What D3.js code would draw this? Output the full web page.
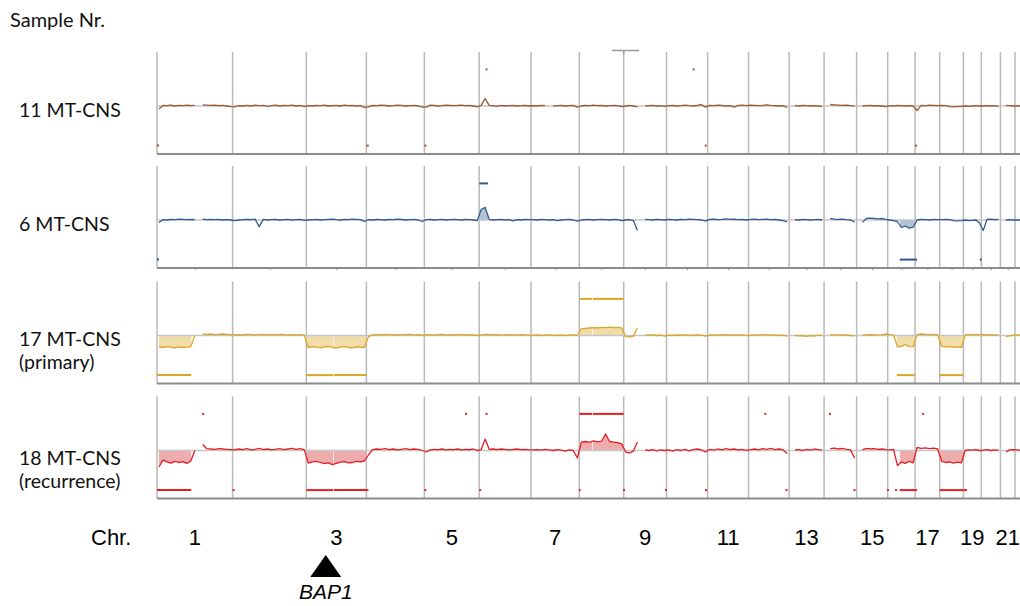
<!DOCTYPE html>
<html><head><meta charset="utf-8">
<script src="https://cdn.jsdelivr.net/npm/d3@7"></script>
<style>body{margin:0;background:#fff;} svg{display:block;}</style>
</head><body>
<svg id="chart" width="1020" height="606"></svg>
<script>
// ---------------- DATA ----------------
const chromosomes = ["1","2","3","4","5","6","7","8","9","10","11","12","13","14","15","16","17","18","19","20","21","22"];
const chrLengthsMb = [249.3,243.2,198.0,191.2,180.9,171.1,159.1,146.4,141.2,135.5,135.0,133.9,115.2,107.3,102.5,90.4,81.2,78.1,59.1,63.0,48.1,51.3];
const tickChromosomes = ["1","3","5","7","9","11","13","15","17","19","21"];
const sampleNames = [["11 MT-CNS"],["6 MT-CNS"],["17 MT-CNS","(primary)"],["18 MT-CNS","(recurrence)"]];
const bap1 = ["3", 64];            // chromosome, position (Mb) of the marked gene
const topMarkFrom = ["8", 107];    // small grey mark above the first panel
const topMarkTo = ["9", 51];
const gainLevel = 1.22, lossLevel = -1.32;  // log2 levels of the call bars

// log2 ratio profiles, one list per chromosome, evenly spaced along it (null = no probes)
const profile11 = [
[-0.1,0.02,0.01,0.03,0.0,0.02,0.01,0.03,0.01,0.02,null,0.04,0.03,0.02,0.03,0.01,0.02,0.0,-0.02],
[-0.03,0.01,0.0,0.02,0.0,0.03,0.01,0.02,-0.01,0.01,0.03,0.0,0.02,0.01,0.03,0.0,0.02,-0.02],
[0.01,0.0,0.02,0.01,0.03,0.0,0.01,0.02,0.0,0.03,0.01,0.02,0.0,0.01,-0.05],
[-0.03,0.02,0.01,0.03,0.02,0.0,0.01,0.03,0.02,0.0,0.01,0.02,0.0,-0.04],
[-0.04,0.03,0.02,0.0,0.01,0.03,0.02,0.01,0.02,0.03,0.01,0.02,0.0,-0.03],
[0.02,0.25,0.02,0.01,-0.01,0.02,0.0,0.01,0.02,0.0,0.01,0.02,0.0],
[0.01,0.0,0.02,0.01,null,0.0,0.01,0.02,0.0,0.01,0.02,-0.04],
[0.0,0.02,0.01,0.03,0.01,0.02,0.0,0.01,0.02,0.01,-0.02],
[0.0,0.02,0.0,-0.03,null,0.0,0.01,0.02,0.0,0.01,-0.01],
[0.01,0.02,0.0,0.01,0.03,0.01,0.0,0.02,0.05,-0.04],
[0.02,0.01,0.03,0.02,0.0,0.01,-0.04,0.02,0.03,0.01],
[0.03,0.02,0.01,0.02,0.04,0.02,0.01,0.0,0.01,-0.05],
[null,0.01,0.0,0.02,0.01,0.0,0.01,0.0,-0.02],
[null,0.05,0.04,0.03,0.02,0.03,0.01,0.0],
[null,0.0,0.01,0.02,0.0,0.01,0.0,-0.02],
[0.01,0.0,0.02,0.01,0.0,0.01,0.0],
[-0.15,0.02,0.01,0.03,0.02,0.01],
[0.02,0.01,-0.02,-0.03,-0.02,-0.01],
[0.0,-0.01,0.0,0.01,0.0],
[0.0,0.01,0.0,0.01,-0.01],
[null,0.02,0.01,0.0],
[0.0,0.01,0.0,0.01]
];
const profile6 = [
[-0.08,0.01,0.0,0.02,0.01,0.03,0.02,0.01,0.02,0.01,null,0.03,0.01,0.02,0.01,0.02,0.0,0.01,0.0],
[-0.02,0.0,0.01,0.02,0.01,0.03,-0.22,0.02,0.0,0.01,0.02,0.0,0.01,0.02,0.0,0.01,0.02,-0.01],
[0.0,0.01,0.02,0.0,0.01,0.02,0.03,0.01,0.0,0.02,0.01,0.03,0.02,0.01,-0.05],
[0.01,0.0,0.02,0.01,0.0,0.02,0.01,0.03,0.02,0.0,0.01,0.02,0.0,-0.05],
[0.01,0.02,0.0,0.01,0.02,0.0,0.01,0.02,0.01,0.0,0.02,0.01,0.0,-0.02],
[0.35,0.42,0.02,0.0,0.01,0.02,0.0,0.01,-0.03,0.01,0.0,0.02,0.01],
[0.01,0.0,0.02,0.01,0.0,0.01,-0.02,0.0,0.01,0.02,0.0,-0.04],
[0.0,0.01,0.02,0.0,0.01,0.02,0.01,0.0,0.02,0.01,-0.02],
[0.0,0.01,-0.02,-0.35,null,0.02,0.01,0.0,0.02,0.01,0.0],
[0.02,0.01,0.0,0.02,0.01,0.03,0.02,0.01,0.0,-0.04],
[0.02,0.03,0.01,0.02,0.04,0.02,0.03,0.01,0.02,0.0],
[0.02,0.03,0.01,0.02,0.03,0.01,0.02,0.0,-0.02,-0.06],
[null,0.01,0.0,0.02,0.01,0.0,0.01,0.02,0.0],
[null,0.05,0.03,0.02,0.03,0.01,0.0,-0.06],
[null,-0.08,0.05,0.06,0.05,0.04,0.05,0.02],
[0.0,-0.02,-0.05,-0.25,-0.2,-0.27,-0.24],
[0.0,0.02,0.01,0.0,0.02,0.01],
[0.01,0.02,0.01,-0.02,-0.03,-0.02],
[0.0,-0.02,-0.01,0.0,-0.1],
[-0.35,0.02,0.03,0.01,0.02],
[null,0.0,0.01,0.0],
[0.0,0.01,0.0,0.01]
];
const profile17 = [
[-0.38,-0.4,-0.37,-0.39,-0.41,-0.38,-0.4,-0.39,-0.37,0.0,null,0.05,0.04,0.05,0.03,0.04,0.05,0.04,0.03],
[0.02,0.03,0.02,0.04,0.03,0.02,0.03,0.04,0.02,0.03,0.02,0.04,0.03,0.02,0.03,0.02,0.03,0.01],
[-0.4,-0.37,-0.39,-0.41,-0.38,-0.36,-0.4,-0.42,-0.39,-0.37,-0.4,-0.41,-0.38,-0.39,-0.4],
[-0.04,0.02,0.03,0.02,0.04,0.03,0.02,0.03,0.02,0.03,0.04,0.02,0.03,0.01],
[0.02,0.03,0.01,0.03,0.04,0.02,0.03,0.02,0.03,0.04,0.02,0.03,0.02,0.0],
[0.02,0.04,0.03,0.02,0.03,0.01,0.02,0.03,0.01,0.02,0.03,0.02,0.01],
[0.01,0.02,0.0,0.01,0.02,0.0,0.01,0.02,0.0,0.01,0.02,0.0],
[0.22,0.24,0.25,0.26,0.25,0.27,0.26,0.28,0.26,0.27,0.25],
[-0.04,-0.05,-0.02,0.25,null,0.02,0.01,0.02,0.0,0.01,-0.02],
[0.01,0.0,0.02,0.01,0.02,0.0,0.01,0.02,0.01,-0.02],
[0.01,0.02,0.01,0.02,0.03,0.01,0.02,0.01,0.02,0.0],
[0.01,0.02,0.01,0.03,0.02,0.01,0.02,0.0,0.01,-0.02],
[null,0.0,-0.01,0.0,-0.03,0.0,-0.02,0.01,0.0],
[null,0.03,0.02,0.01,0.02,0.01,0.0,-0.01],
[null,0.01,0.02,0.03,0.02,0.01,0.02,0.05],
[0.03,0.02,-0.38,-0.36,-0.3,-0.37,-0.38],
[0.03,0.05,0.04,0.03,0.04,0.02],
[-0.36,-0.38,-0.37,-0.39,-0.38,-0.4],
[0.02,0.03,0.02,0.04,0.02],
[0.03,0.02,0.03,0.01,0.02],
[null,-0.04,-0.01,0.01],
[0.02,0.01,0.02,0.01]
];
const profile18 = [
[-0.55,-0.32,-0.38,-0.42,-0.36,-0.4,-0.37,-0.43,-0.35,0.0,null,0.2,0.06,0.05,0.04,0.06,0.05,0.04,0.03],
[0.02,0.05,0.03,0.06,0.02,0.04,0.07,0.03,0.05,0.02,0.04,0.06,0.03,0.05,0.07,0.04,0.06,0.02],
[-0.42,-0.38,-0.36,-0.4,-0.44,-0.41,-0.47,-0.43,-0.39,-0.37,-0.41,-0.4,-0.36,-0.38,-0.35],
[-0.15,0.03,0.05,0.04,0.06,0.03,0.05,0.02,0.04,0.06,0.03,0.05,0.04,0.0],
[-0.05,0.02,0.04,0.03,0.05,0.02,0.04,0.03,0.05,0.02,0.04,0.03,0.05,0.0],
[0.03,0.38,0.04,0.05,0.03,0.05,0.04,0.02,0.04,0.05,0.03,0.04,0.02],
[0.02,0.03,0.01,0.04,0.02,0.0,0.03,0.01,-0.02,0.02,0.0,-0.25],
[0.28,0.3,0.27,0.32,0.29,0.31,0.55,0.3,0.28,0.26,0.22],
[-0.05,-0.08,-0.02,0.28,null,0.02,0.0,0.03,-0.01,0.02,0.0],
[0.02,-0.02,0.03,0.0,0.04,-0.01,0.03,0.05,0.02,-0.05],
[0.04,0.01,0.05,0.02,0.06,0.03,0.05,0.02,0.04,0.0],
[0.03,0.05,0.02,0.06,0.04,0.07,0.03,0.05,0.02,-0.1],
[null,0.02,0.03,0.0,0.04,0.01,0.05,0.03,0.02],
[null,0.06,0.08,0.05,0.07,0.04,0.02,-0.25],
[null,0.02,0.07,0.05,0.06,0.04,0.05,0.03],
[0.02,0.04,-0.5,-0.38,-0.43,-0.36,-0.41],
[0.1,0.07,0.09,0.06,0.08,0.05],
[-0.36,-0.4,-0.38,-0.42,-0.39,-0.41],
[0.0,0.02,0.01,0.03,0.0],
[0.01,0.03,0.0,0.02,0.01],
[null,-0.05,0.02,0.03],
[0.02,0.0,0.01,0.02]
];

// segment calls: [chromosome, start Mb, end Mb, type]
const calls11 = [["1",0,2,"loss"],["4",0,8,"loss"],["5",0,2,"loss"],["6",21,24,"gain"],["10",86,89,"gain"],["10",126,129,"loss"],["17",0,2,"loss"]];
const calls6 = [["1",0,2,"loss"],["6",0,29,"gain"],["16",40,90.4,"loss"],["17",0,5,"loss"],["19",54,57,"loss"]];
const calls17 = [["1",0,113,"loss"],["3",0,89,"loss"],["3",91,198,"loss"],["8",0,42,"gain"],["8",44.5,146.4,"gain"],["16",30,90.4,"loss"],["18",0,78.1,"loss"]];
const calls18 = [["1",0,113,"loss"],["1",149,153,"gain"],["2",0,3,"loss"],["3",0,89,"loss"],["3",91,198,"loss"],["4",0,4,"loss"],["5",0,2,"loss"],["5",134,136,"gain"],["6",0,2,"loss"],["6",21,23,"gain"],["7",157,159,"loss"],["8",0,42,"gain"],["8",44.5,146.4,"gain"],["8",144,146.4,"loss"],["9",136,139,"loss"],["10",127,130,"loss"],["12",52,54,"gain"],["12",122,125,"loss"],["14",16,18,"gain"],["14",97,100,"loss"],["15",100,102.5,"loss"],["16",24,26,"loss"],["16",40,90.4,"loss"],["17",0,5,"loss"],["17",23,25,"gain"],["18",0,78.1,"loss"],["19",0,12,"loss"]];

const profiles = [profile11, profile6, profile17, profile18];
const callSets = [calls11, calls6, calls17, calls18];

// ---------------- STYLE / LAYOUT ----------------
const lineColors = ["#9b5a2f", "#2f5a8e", "#dca52a", "#e61e24"];
const fillColors = ["#d9b9a0", "#a8b9d0", "#efd9a0", "#eca3a3"];
const panelTops = [52, 166, 281.5, 396.5];
const panelH = 102;
const labelBaselines = [117, 231, 346, 465];

const svg = d3.select("#chart");
const starts = [0, ...d3.cumsum(chrLengthsMb)].slice(0, chrLengthsMb.length);
const idx = c => chromosomes.indexOf(c);
const gpos = (c, mb) => starts[idx(c)] + mb;
const x = d3.scaleLinear().domain([0, starts[21]]).range([157, 1015]);
const y = d3.scaleLinear().domain([-1.6, 1.8]).range([panelH, 0]);
const xRight = 1020;

// title
svg.append("text").attr("x", 10).attr("y", 27)
  .attr("font-family", "Lato, 'Open Sans', sans-serif").attr("font-size", 20)
  .attr("fill", "#111").text("Sample Nr.");

const defs = svg.append("defs");

profiles.forEach((prof, p) => {
  const g = svg.append("g").attr("transform", `translate(0,${panelTops[p]})`);
  const pts = [];
  prof.forEach((vals, c) => {
    const n = vals.length;
    vals.forEach((v, i) => pts.push({pos: starts[c] + (i + 0.5) / n * chrLengthsMb[c], v}));
  });
  // chromosome boundaries
  g.selectAll("line.chr").data(starts).join("line")
    .attr("x1", d => x(d)).attr("x2", d => x(d))
    .attr("y1", 0).attr("y2", panelH)
    .attr("stroke", "#b9b9b9").attr("stroke-width", 1.5);

  // shaded called regions
  const calls = callSets[p];
  const big = calls.filter(d => d[2] - d[1] >= 10);
  const clipId = "clip" + p;
  defs.append("clipPath").attr("id", clipId).selectAll("rect").data(big).join("rect")
    .attr("x", d => x(gpos(d[0], d[1]))).attr("width", d => x(gpos(d[0], d[2])) - x(gpos(d[0], d[1])))
    .attr("y", 0).attr("height", panelH);
  const area = d3.area().defined(d => d.v !== null)
    .x(d => x(d.pos)).y0(y(0)).y1(d => y(d.v));
  g.append("path").datum(pts).attr("d", area)
    .attr("clip-path", `url(#${clipId})`)
    .attr("fill", fillColors[p]).attr("fill-opacity", 0.9);

  // baseline
  g.append("line").attr("x1", x(0)).attr("x2", xRight).attr("y1", y(0)).attr("y2", y(0))
    .attr("stroke", "#c6c6c6").attr("stroke-width", 1.6);

  // profile line
  const line = d3.line().defined(d => d.v !== null).x(d => x(d.pos)).y(d => y(d.v));
  g.append("path").datum(pts).attr("d", line)
    .attr("fill", "none").attr("stroke", lineColors[p]).attr("stroke-width", 1.3)
    .attr("stroke-linejoin", "round");

  // call bars
  g.selectAll("line.call").data(calls).join("line")
    .attr("x1", d => x(gpos(d[0], d[1])))
    .attr("x2", d => Math.max(x(gpos(d[0], d[2])), x(gpos(d[0], d[1])) + 2))
    .attr("y1", d => y(d[3] === "gain" ? gainLevel : lossLevel))
    .attr("y2", d => y(d[3] === "gain" ? gainLevel : lossLevel))
    .attr("stroke", lineColors[p]).attr("stroke-width", 2);

  // bottom axis
  const axis = d3.axisBottom(x)
    .tickValues(p === 1 ? chromosomes.map((c, i) => starts[i] + chrLengthsMb[i] / 2) : [])
    .tickFormat("").tickSize(2).tickSizeOuter(0);
  const ax = g.append("g").attr("transform", `translate(0,${panelH})`).call(axis);
  ax.select(".domain").remove();
  ax.selectAll(".tick line").attr("stroke", "#8a8fa0");
  g.append("line").attr("x1", x(0)).attr("x2", xRight).attr("y1", panelH).attr("y2", panelH)
    .attr("stroke", "#8c8c8c").attr("stroke-width", 2);

  // sample label
  const t = svg.append("text").attr("x", 19).attr("y", labelBaselines[p])
    .attr("font-family", "Lato, 'Open Sans', sans-serif").attr("font-size", 19.5).attr("fill", "#111");
  sampleNames[p].forEach((s, k) => t.append("tspan").attr("x", 19).attr("dy", k ? 23 : 0).text(s));
});

// small grey mark above first panel
const mTop = panelTops[0] - 1.5;
svg.append("line").attr("x1", x(gpos(...topMarkFrom))).attr("x2", x(gpos(...topMarkTo)))
  .attr("y1", mTop).attr("y2", mTop).attr("stroke", "#9a9a9a").attr("stroke-width", 1.5);
svg.append("line").attr("x1", x(starts[idx("9")])).attr("x2", x(starts[idx("9")]))
  .attr("y1", mTop).attr("y2", panelTops[0] + 2).attr("stroke", "#9a9a9a").attr("stroke-width", 1.5);

// chromosome labels
const font2 = "'Liberation Sans', Arial, sans-serif";
svg.append("text").attr("x", 91).attr("y", 545).attr("font-family", font2).attr("font-size", 22)
  .attr("fill", "#000").text("Chr.");
svg.selectAll("text.chrlab").data(tickChromosomes).join("text")
  .attr("x", c => x(starts[idx(c)] + chrLengthsMb[idx(c)] / 2)).attr("y", 545)
  .attr("text-anchor", "middle").attr("font-family", font2).attr("font-size", 22)
  .attr("fill", "#000").text(c => c);

// BAP1 marker
const bx = x(gpos(...bap1));
svg.append("path").attr("d", `M${bx},555 L${bx + 15.5},577 L${bx - 15.5},577 Z`).attr("fill", "#000");
svg.append("text").attr("x", bx).attr("y", 599).attr("text-anchor", "middle")
  .attr("font-family", font2).attr("font-size", 21).attr("font-style", "italic")
  .attr("fill", "#000").text("BAP1");
</script>
</body></html>
